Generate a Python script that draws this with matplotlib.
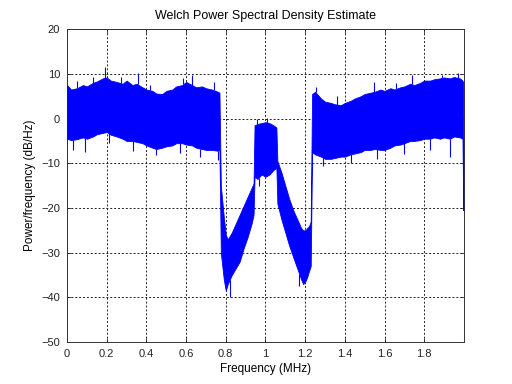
import numpy as np
import matplotlib
matplotlib.use('Agg')
import matplotlib.pyplot as plt

plt.rcParams['font.family'] = ['Liberation Sans', 'DejaVu Sans']

# Welch PSD estimate, read off as upper / lower envelope of the noisy trace
freq_mhz = [0.000, 0.020, 0.050, 0.080, 0.100, 0.130, 0.150, 0.180, 0.200, 0.220,
            0.250, 0.280, 0.300, 0.330, 0.350, 0.380, 0.400, 0.430, 0.450, 0.480,
            0.500, 0.530, 0.550, 0.580, 0.600, 0.630, 0.650, 0.680, 0.700, 0.730,
            0.760, 0.768, 0.775, 0.790, 0.800, 0.810, 0.830, 0.850, 0.870, 0.890,
            0.910, 0.930, 0.940, 0.945, 0.960, 0.980, 1.000, 1.020, 1.040, 1.055,
            1.060, 1.080, 1.100, 1.120, 1.140, 1.160, 1.180, 1.190, 1.200, 1.210,
            1.220, 1.228, 1.235, 1.250, 1.280, 1.300, 1.330, 1.350, 1.380, 1.400,
            1.430, 1.450, 1.480, 1.500, 1.530, 1.550, 1.580, 1.600, 1.630, 1.650,
            1.680, 1.700, 1.730, 1.750, 1.780, 1.800, 1.830, 1.850, 1.880, 1.900,
            1.930, 1.950, 1.980, 1.993, 1.997]

psd_upper = [7.5, 6.5, 6.8, 7.5, 7.2, 8.0, 8.3, 9.0, 9.2, 8.5,
             8.2, 7.8, 8.5, 7.5, 7.8, 7.0, 6.5, 6.2, 5.6, 5.5,
             6.2, 6.5, 7.2, 7.5, 8.2, 7.5, 7.0, 7.2, 6.8, 6.5,
             6.0, 5.8, -15.0, -22.0, -26.0, -27.0, -25.5, -23.5, -21.5, -19.5,
             -17.5, -15.5, -14.5, -1.5, -1.2, -1.0, -0.8, -1.0, -1.5, -2.0,
             -9.5, -12.0, -15.0, -18.0, -20.5, -22.5, -24.5, -25.0, -25.0, -24.5,
             -24.0, -23.0, 5.5, 6.0, 4.5, 3.8, 3.5, 3.2, 3.0, 3.5,
             4.0, 4.5, 5.0, 5.5, 5.8, 6.0, 6.5, 6.2, 6.8, 6.5,
             7.0, 7.2, 7.8, 7.5, 8.0, 8.5, 8.5, 8.8, 9.0, 9.2,
             9.0, 9.3, 9.0, 8.5, 8.0]

psd_lower = [-4.5, -4.8, -4.6, -4.2, -4.5, -4.0, -3.5, -3.2, -3.0, -3.6,
             -4.0, -4.5, -5.0, -5.0, -5.2, -5.5, -6.0, -6.5, -6.8, -6.5,
             -6.2, -6.0, -5.5, -5.5, -5.8, -6.0, -6.5, -6.8, -7.0, -7.0,
             -7.2, -7.0, -30.0, -36.0, -38.5, -37.0, -35.0, -33.5, -32.0, -29.0,
             -26.5, -23.5, -21.5, -13.0, -13.5, -12.5, -13.0, -12.5, -11.5, -11.0,
             -19.0, -22.5, -25.5, -28.5, -31.0, -33.5, -36.0, -37.0, -36.5, -35.5,
             -34.0, -33.0, -7.5, -8.0, -8.5, -9.0, -9.0, -8.8, -8.5, -8.5,
             -8.0, -7.8, -7.5, -7.0, -7.0, -6.8, -7.0, -7.0, -6.5, -6.0,
             -5.8, -5.5, -5.0, -5.0, -4.8, -4.5, -4.5, -4.2, -4.5, -4.2,
             -4.5, -4.0, -4.2, -4.5, -20.5]

# single noise spikes poking out of the band (frequency, tip value)
spike_up_f = [0.05, 0.13, 0.19, 0.27, 0.355, 0.42, 0.585, 0.63, 0.74,
              0.955, 1.01, 1.253, 1.36, 1.545, 1.66, 1.74, 1.89, 1.97]
spike_up_db = [8.3, 9.3, 11.5, 9.4, 10.2, 7.6, 9.0, 9.7, 8.2,
               0.0, 0.2, 7.1, 5.0, 8.2, 8.0, 9.7, 9.7, 10.2]
spike_dn_f = [0.03, 0.09, 0.21, 0.33, 0.45, 0.57, 0.67, 0.76,
              0.82, 0.965, 1.17, 1.29, 1.43, 1.56, 1.70, 1.83, 1.93]
spike_dn_db = [-7.0, -7.5, -5.5, -7.2, -8.2, -7.8, -8.6, -9.2,
               -40.0, -15.0, -37.5, -10.5, -10.0, -9.0, -8.0, -7.0, -8.6]

xticks = [0, 0.2, 0.4, 0.6, 0.8, 1, 1.2, 1.4, 1.6, 1.8]
yticks = [-50, -40, -30, -20, -10, 0, 10, 20]

fig = plt.figure(figsize=(5.12, 3.84), dpi=100)
ax = fig.add_axes([0.131, 0.109, 0.775, 0.815])

ax.fill_between(freq_mhz, psd_lower, psd_upper, color='#0000ff', lw=0.6, zorder=3)

# spikes start inside the band, so use the band value at that frequency
up_base = np.interp(spike_up_f, freq_mhz, psd_upper)
dn_base = np.interp(spike_dn_f, freq_mhz, psd_lower)
ax.vlines(spike_up_f, up_base, spike_up_db, color='#0000ff', lw=0.8, zorder=3)
ax.vlines(spike_dn_f, dn_base, spike_dn_db, color='#0000ff', lw=0.8, zorder=3)

ax.set_xlim(0, 2)
ax.set_ylim(-50, 20)
ax.set_xticks(xticks)
ax.set_xticklabels(['0', '0.2', '0.4', '0.6', '0.8', '1', '1.2', '1.4', '1.6', '1.8'])
ax.set_yticks(yticks)
ax.grid(True, color='#222222', linestyle=(0, (2, 2)), linewidth=0.7, zorder=1)
ax.tick_params(direction='in', length=3, width=0.6, labelsize=8, pad=5,
               top=True, right=True, colors='#222222')
for s in ax.spines.values():
    s.set_linewidth(0.7)
    s.set_color('#333333')

ax.set_title('Welch Power Spectral Density Estimate', fontsize=9, pad=7)
ax.set_xlabel('Frequency (MHz)', fontsize=8.5, labelpad=3)
ax.set_ylabel('Power/frequency (dB/Hz)', fontsize=8.5, labelpad=4)

fig.savefig('out.png', dpi=100, facecolor='white')
